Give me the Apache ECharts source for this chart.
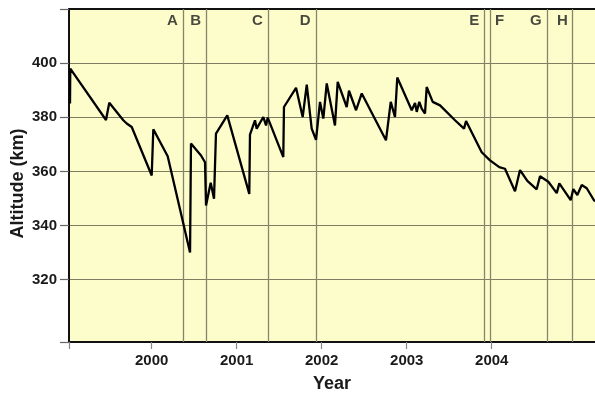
<!DOCTYPE html>
<html>
<head>
<meta charset="utf-8">
<script src="https://cdn.jsdelivr.net/npm/echarts@6/dist/echarts.min.js"></script>
<style>
html,body{margin:0;padding:0;background:#fff;}
#chart{width:595px;height:396px;}
</style>
</head>
<body>
<div id="chart"></div>
<script>
// Decimal year of each reading
const years = [
  1999.039, 1999.042, 1999.462, 1999.501, 1999.666, 1999.706, 1999.765, 2000.000,
  2000.019, 2000.188, 2000.451, 2000.462, 2000.580, 2000.627, 2000.639, 2000.694,
  2000.733, 2000.756, 2000.889, 2001.148, 2001.156, 2001.215, 2001.235, 2001.313,
  2001.345, 2001.365, 2001.548, 2001.556, 2001.698, 2001.776, 2001.824, 2001.882,
  2001.933, 2001.980, 2002.019, 2002.059, 2002.156, 2002.188, 2002.294, 2002.321,
  2002.404, 2002.471, 2002.756, 2002.812, 2002.862, 2002.889, 2003.059, 2003.098,
  2003.118, 2003.148, 2003.176, 2003.215, 2003.235, 2003.306, 2003.392, 2003.568,
  2003.674, 2003.698, 2003.882, 2003.980, 2004.089, 2004.156, 2004.274, 2004.333,
  2004.419, 2004.529, 2004.568, 2004.666, 2004.765, 2004.795, 2004.929, 2004.960,
  2005.007, 2005.059, 2005.118, 2005.204, 2005.274
];
// Altitude (km) at each reading
const altitudes = [
  385.1, 398.0, 379.0, 385.4, 378.9, 377.7, 376.4, 358.5,
  375.6, 365.6, 330.1, 370.3, 365.9, 363.4, 347.4, 355.8,
  349.9, 374.0, 380.7, 351.7, 373.6, 378.9, 375.8, 380.1,
  377.0, 379.9, 365.3, 383.8, 390.9, 380.1, 392.1, 375.8,
  371.7, 385.7, 379.5, 392.5, 377.0, 393.1, 383.8, 389.8,
  382.6, 388.8, 371.5, 385.7, 380.1, 394.7, 382.6, 385.3,
  382.0, 385.7, 383.2, 381.4, 391.2, 385.7, 384.4, 378.9,
  375.8, 378.6, 367.1, 364.1, 361.6, 361.0, 352.7, 360.5,
  356.5, 353.4, 358.2, 356.2, 352.0, 355.6, 349.4, 353.5,
  351.3, 355.0, 353.8, 349.3, 348.5
];
// Event markers
const eventNames = ['A', 'B', 'C', 'D', 'E', 'F', 'G', 'H'];
const eventYears = [2000.365, 2000.639, 2001.365, 2001.929, 2003.913, 2003.980, 2004.647, 2004.953];
const eventLabelSide = ['left', 'left', 'left', 'left', 'left', 'right', 'left', 'left'];
const eventLabelAltitude = 415.8;
// Axes
const xMin = 1999.027, xMax = 2005.215;
const yMin = 297, yMax = 420;
const xTickLabels = [2000, 2001, 2002, 2003, 2004];
const yTickLabels = [320, 340, 360, 380, 400];

const FONT = '"Liberation Sans", Arial, Helvetica, sans-serif';
const chart = echarts.init(document.getElementById('chart'), null, {renderer: 'canvas'});

const option = {
  animation: false,
  backgroundColor: '#ffffff',
  grid: {left: 69, right: 0, top: 9, bottom: 54, show: true, backgroundColor: '#FDFDCB', borderWidth: 0,
    containLabel: false, outerBoundsMode: 'none'},
  xAxis: [{
    type: 'value', min: xMin, max: xMax, position: 'bottom',
    axisLine: {show: true, onZero: false, lineStyle: {color: '#111', width: 2}},
    axisTick: {show: true, customValues: [xMin].concat(xTickLabels), length: 7, lineStyle: {color: '#888', width: 1.2}},
    axisLabel: {customValues: xTickLabels, formatter: v => String(v), margin: 11,
      fontFamily: FONT, fontSize: 15, fontWeight: 'bold', color: '#1a1a1a'},
    splitLine: {show: false},
    name: 'Year', nameLocation: 'middle', nameGap: 33,
    nameTextStyle: {fontFamily: FONT, fontSize: 18, fontWeight: 'bold', color: '#1a1a1a'}
  }, {
    type: 'value', min: xMin, max: xMax, position: 'top',
    axisLine: {show: true, onZero: false, lineStyle: {color: '#111', width: 2}},
    axisTick: {show: false}, axisLabel: {show: false}, splitLine: {show: false}
  }],
  yAxis: {
    type: 'value', min: yMin, max: yMax,
    axisLine: {show: true, onZero: false, lineStyle: {color: '#111', width: 2}},
    axisTick: {show: true, customValues: [yMin].concat(yTickLabels, [yMax]), length: 9, lineStyle: {color: '#666', width: 1.2}},
    axisLabel: {customValues: yTickLabels, margin: 12,
      fontFamily: FONT, fontSize: 15, fontWeight: 'bold', color: '#1a1a1a'},
    splitLine: {show: true, lineStyle: {color: '#7d7d62', width: 1.2}},
    name: 'Altitude (km)', nameLocation: 'middle', nameGap: 42, nameMoveOverlap: false,
    nameTextStyle: {fontFamily: FONT, fontSize: 18, fontWeight: 'bold', color: '#1a1a1a', padding: [0, 16, 0, 0]}
  },
  series: [
    {
      type: 'line', data: [], z: 1, silent: true,
      markLine: {
        silent: true, symbol: 'none', animation: false,
        label: {show: false},
        lineStyle: {type: 'solid', color: '#85856a', width: 1.3},
        data: eventYears.map(v => ({xAxis: v}))
      }
    },
    {
      type: 'line', z: 5, showSymbol: false, symbol: 'none', smooth: false,
      lineStyle: {color: '#000', width: 2.3},
      data: years.map((x, i) => [x, altitudes[i]])
    },
    {
      type: 'scatter', z: 6, symbolSize: 0, silent: true,
      label: {show: true, formatter: '{b}', distance: 5,
        fontFamily: FONT, fontSize: 15, fontWeight: 'bold', color: '#1a1a1a'},
      data: eventYears.map((x, i) => ({
        name: eventNames[i], value: [x, eventLabelAltitude],
        label: {position: eventLabelSide[i]}
      }))
    }
  ]
};
chart.setOption(option);
</script>
</body>
</html>
